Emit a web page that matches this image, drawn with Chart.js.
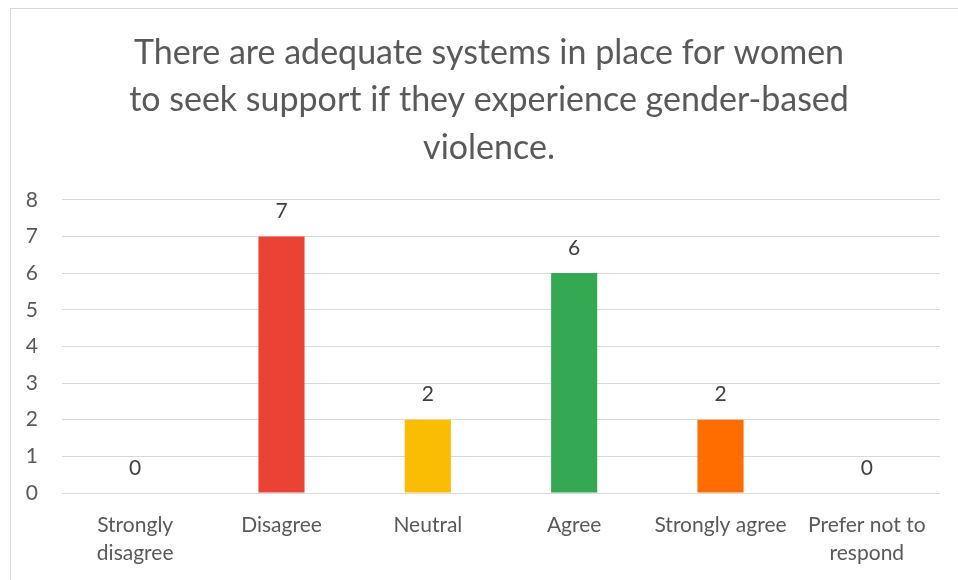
<!DOCTYPE html>
<html>
<head>
<meta charset="utf-8">
<script src="https://cdn.jsdelivr.net/npm/chart.js@4/dist/chart.umd.min.js"></script>
<style>
  html, body { margin: 0; padding: 0; background: #ffffff; }
  #wrap { position: relative; width: 958px; height: 580px; }
</style>
</head>
<body>
<div id="wrap"><canvas id="c" width="958" height="580"></canvas></div>
<script>
const titleLines = [
  "There are adequate systems in place for women",
  "to seek support if they experience gender-based",
  "violence."
];
const categories = [
  ["Strongly", "disagree"],
  "Disagree",
  "Neutral",
  "Agree",
  "Strongly agree",
  ["Prefer not to", "respond"]
];
const responses = [0, 7, 2, 6, 2, 0];
const barColors = ["#4285F4", "#EA4335", "#FBBC04", "#34A853", "#FF6D01", "#46BDC6"];
const yTicks = [0, 1, 2, 3, 4, 5, 6, 7, 8];

const FONT = "Lato, 'Open Sans', sans-serif";

const frame = {
  id: 'frame',
  beforeDraw(chart) {
    const ctx = chart.ctx;
    ctx.save();
    ctx.fillStyle = '#ffffff';
    ctx.fillRect(0, 0, chart.width, chart.height);
    ctx.strokeStyle = '#d9d9d9';
    ctx.lineWidth = 1;
    ctx.strokeRect(10.5, 8.5, 960, 600);
    ctx.restore();
  }
};

const titleShift = {
  id: 'titleShift',
  afterLayout(chart) {
    const t = chart.titleBlock;
    if (t) { t.left += 14; t.right += 14; }
  }
};

const valueLabels = {
  id: 'valueLabels',
  afterDatasetsDraw(chart) {
    const ctx = chart.ctx;
    const meta = chart.getDatasetMeta(0);
    const ds = chart.data.datasets[0];
    ctx.save();
    ctx.font = "21px " + FONT;
    ctx.fillStyle = '#404040';
    ctx.textAlign = 'center';
    ctx.textBaseline = 'middle';
    meta.data.forEach((bar, i) => {
      ctx.fillText(String(ds.data[i]), bar.x, bar.y - 25);
    });
    ctx.restore();
  }
};

new Chart(document.getElementById('c'), {
  type: 'bar',
  data: {
    labels: categories,
    datasets: [{
      data: responses,
      backgroundColor: barColors,
      borderWidth: 0,
      categoryPercentage: 1.0,
      barPercentage: 0.315
    }]
  },
  options: {
    responsive: false,
    animation: false,
    devicePixelRatio: 1,
    layout: { padding: { left: 10, right: 18, top: 0, bottom: 0 } },
    plugins: {
      legend: { display: false },
      tooltip: { enabled: false },
      title: {
        display: true,
        text: titleLines,
        color: '#595959',
        font: { family: FONT, size: 34, weight: 'normal', lineHeight: 1.4 },
        padding: { top: 29, bottom: 28 }
      }
    },
    scales: {
      x: {
        grid: { display: false, drawTicks: false },
        border: { display: false },
        ticks: {
          color: '#595959',
          font: { family: FONT, size: 21, lineHeight: 1.3 },
          padding: 19,
          maxRotation: 0,
          autoSkip: false
        },
        afterFit(scale) { scale.height = 87; }
      },
      y: {
        min: 0,
        max: 8,
        afterBuildTicks(scale) { scale.ticks = yTicks.map(v => ({ value: v })); },
        grid: { color: '#d9d9d9', lineWidth: 1, drawTicks: false },
        border: { display: false },
        ticks: {
          color: '#595959',
          font: { family: FONT, size: 21 },
          padding: 24
        },
        afterFit(scale) { scale.width = 52; }
      }
    }
  },
  plugins: [frame, titleShift, valueLabels]
});
</script>
</body>
</html>
